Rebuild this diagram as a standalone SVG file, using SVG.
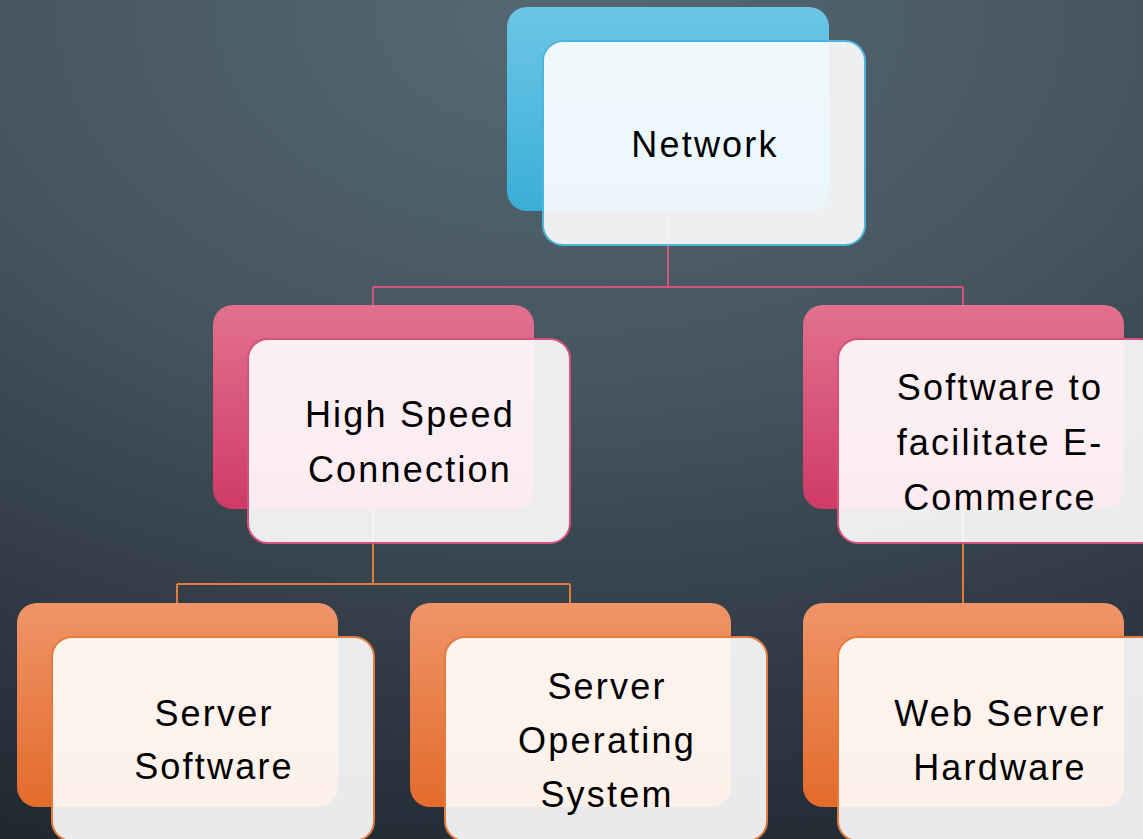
<svg xmlns="http://www.w3.org/2000/svg" width="1143" height="839" viewBox="0 0 1143 839">
<defs>
<radialGradient id="bg" cx="0" cy="0" r="900" gradientUnits="userSpaceOnUse" gradientTransform="translate(560 20) scale(1.6 1)">
<stop offset="0" stop-color="#556874"/>
<stop offset="0.4" stop-color="#46565f"/>
<stop offset="0.75" stop-color="#2f3944"/>
<stop offset="1" stop-color="#1f2630"/>
</radialGradient>
<linearGradient id="gBlue" x1="0" y1="0" x2="0" y2="1">
<stop offset="0" stop-color="#6cc6e6"/>
<stop offset="1" stop-color="#3aaed8"/>
</linearGradient>
<linearGradient id="gPink" x1="0" y1="0" x2="0" y2="1">
<stop offset="0" stop-color="#e1718e"/>
<stop offset="1" stop-color="#cf3a67"/>
</linearGradient>
<linearGradient id="gOrange" x1="0" y1="0" x2="0" y2="1">
<stop offset="0" stop-color="#ef9468"/>
<stop offset="1" stop-color="#e36b2b"/>
</linearGradient>
</defs>
<style>
.back{stroke:none}
.front{fill:#ffffff;fill-opacity:0.9;stroke-width:2}
.fb{stroke:#4bb5dc}
.fp{stroke:#d6517b}
.fo{stroke:#e47a3c}
.lbl{font-family:"Liberation Sans","DejaVu Sans",sans-serif;font-size:36px;letter-spacing:2.2px;fill:#000;text-anchor:middle}
.cp{fill:none;stroke:#d6517b;stroke-width:2}
.co{fill:none;stroke:#e07b3c;stroke-width:2}
</style>
<rect x="0" y="0" width="1143" height="839" fill="url(#bg)"/>
<g id="connectors">
<path class="cp" d="M668 200 V287 M373 287 H963 M373 287 V310 M963 287 V310"/>
<path class="co" d="M373 500 V584 M177 584 H570 M177 584 V610 M570 584 V610"/>
<path class="co" d="M963 500 V610"/>
</g>
<g id="node-network">
<rect class="back" x="507" y="7" width="322" height="204" rx="20" fill="url(#gBlue)"/>
<rect class="front fb" x="543" y="41" width="322" height="204" rx="20"/>
<text class="lbl" x="705" y="157">Network</text>
</g>
<g id="node-high-speed">
<rect class="back" x="213" y="305" width="321" height="204" rx="20" fill="url(#gPink)"/>
<rect class="front fp" x="248" y="339" width="322" height="204" rx="20"/>
<text class="lbl" x="410" y="427">High Speed</text>
<text class="lbl" x="410" y="482">Connection</text>
</g>
<g id="node-software-ecommerce">
<rect class="back" x="803" y="305" width="321" height="204" rx="20" fill="url(#gPink)"/>
<rect class="front fp" x="838" y="339" width="322" height="204" rx="20"/>
<text class="lbl" x="1000" y="400">Software to</text>
<text class="lbl" x="1000" y="455">facilitate E-</text>
<text class="lbl" x="1000" y="510">Commerce</text>
</g>
<g id="node-server-software">
<rect class="back" x="17" y="603" width="321" height="204" rx="20" fill="url(#gOrange)"/>
<rect class="front fo" x="52" y="637" width="322" height="204" rx="20"/>
<text class="lbl" x="214" y="726">Server</text>
<text class="lbl" x="214" y="779">Software</text>
</g>
<g id="node-server-os">
<rect class="back" x="410" y="603" width="321" height="204" rx="20" fill="url(#gOrange)"/>
<rect class="front fo" x="445" y="637" width="322" height="204" rx="20"/>
<text class="lbl" x="607" y="699">Server</text>
<text class="lbl" x="607" y="753">Operating</text>
<text class="lbl" x="607" y="807">System</text>
</g>
<g id="node-web-server-hardware">
<rect class="back" x="803" y="603" width="321" height="204" rx="20" fill="url(#gOrange)"/>
<rect class="front fo" x="838" y="637" width="322" height="204" rx="20"/>
<text class="lbl" x="1000" y="726">Web Server</text>
<text class="lbl" x="1000" y="780">Hardware</text>
</g>
</svg>
